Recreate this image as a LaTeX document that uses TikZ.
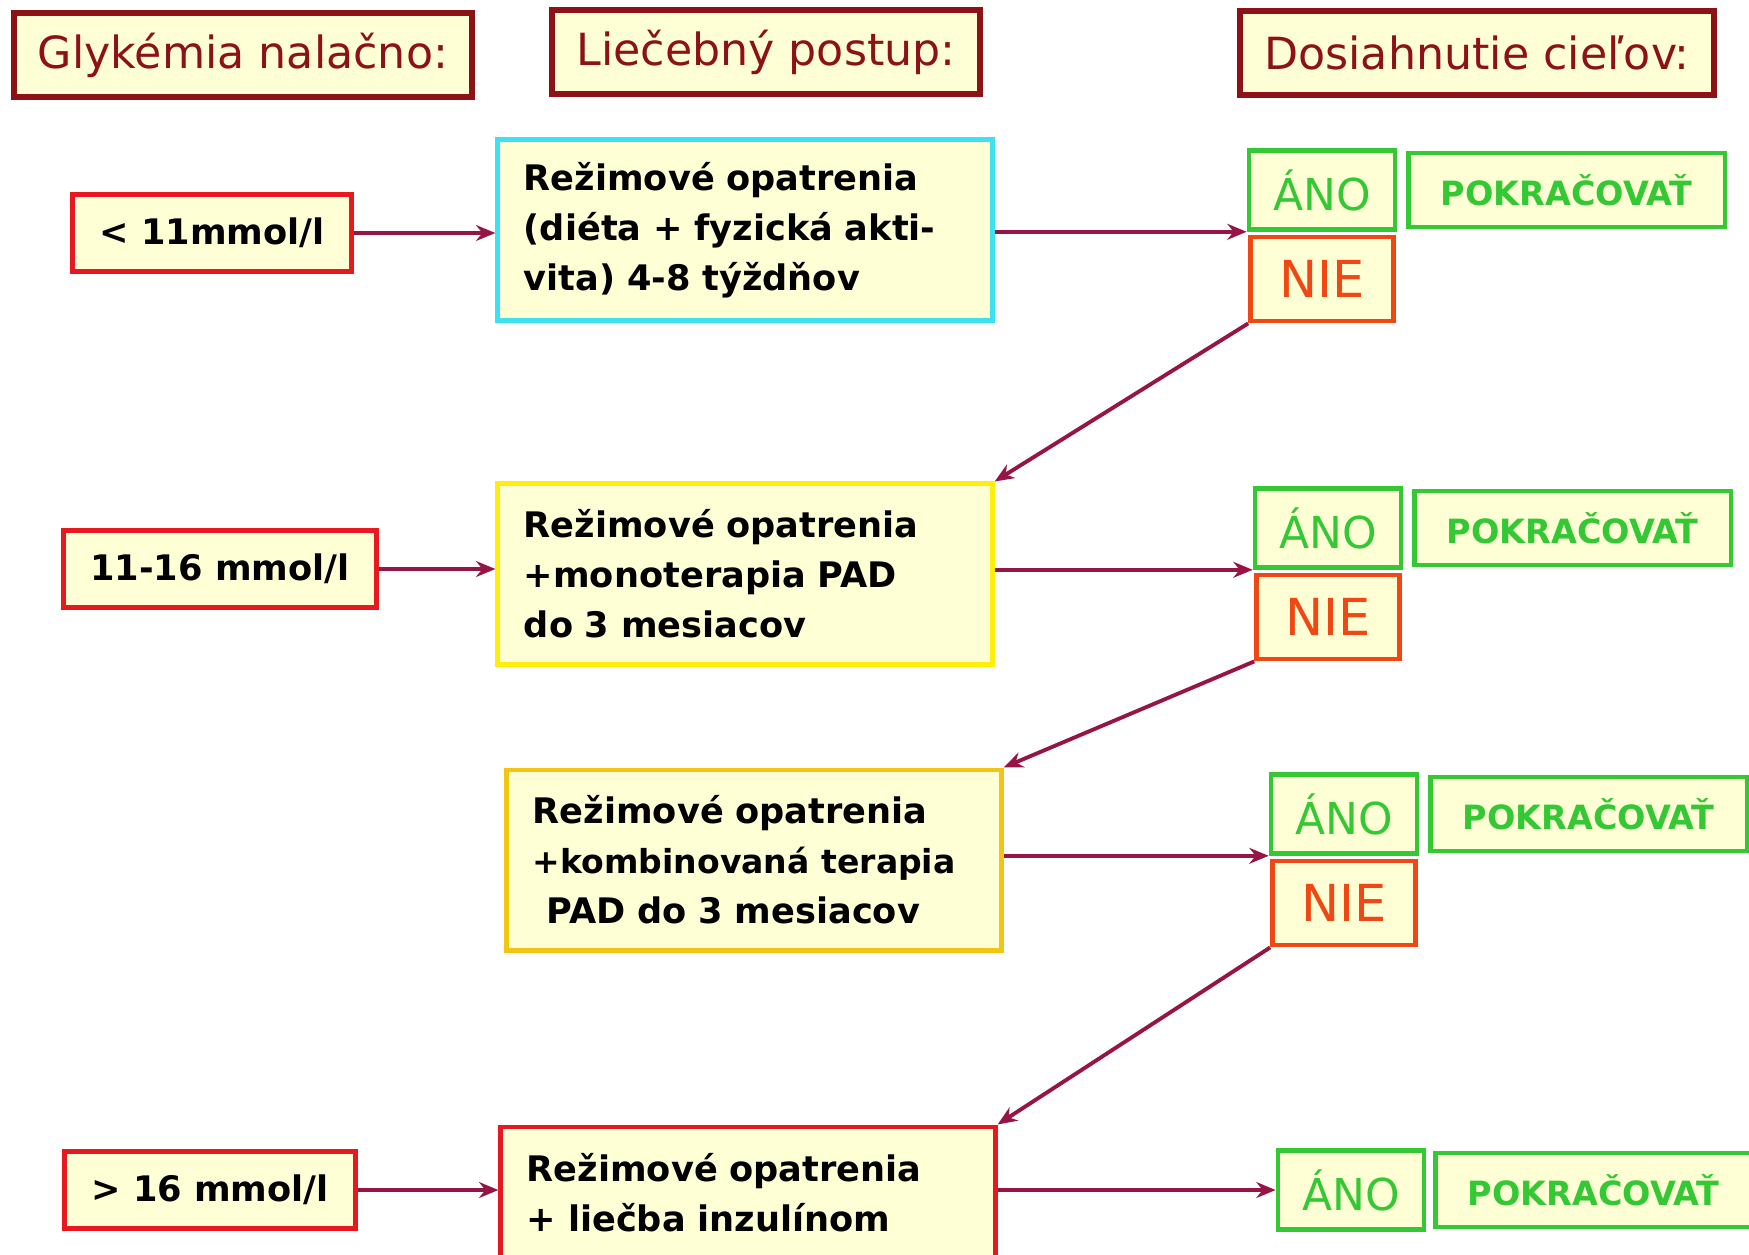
\documentclass[tikz,border=0pt]{standalone}
\usepackage{fontspec}
\setmainfont{DejaVu Sans}
\usetikzlibrary{positioning}
\usetikzlibrary{arrows.meta}
\definecolor{cream}{RGB}{255,255,214}
\definecolor{hdrred}{RGB}{140,18,24}
\definecolor{boxred}{RGB}{232,24,32}
\definecolor{boxcyan}{RGB}{60,226,240}
\definecolor{boxyellow}{RGB}{255,238,10}
\definecolor{boxgold}{RGB}{242,196,20}
\definecolor{yesgreen}{RGB}{52,200,52}
\definecolor{nored}{RGB}{240,72,20}
\definecolor{flowred}{RGB}{150,20,70}
\tikzset{
  heading/.style={rectangle,draw=hdrred,fill=cream,line width=1.7pt,
                  text=hdrred,inner xsep=0.24cm,minimum height=0.84cm,
                  font=\fontsize{12.6}{15}\selectfont},
  level/.style={rectangle,draw=boxred,fill=cream,line width=1.3pt,
                inner xsep=0.27cm,minimum height=0.77cm,
                font=\fontsize{10}{12}\selectfont\bfseries},
  therapy/.style={rectangle,fill=cream,line width=1.4pt,align=left,
                  text width=4.42cm,inner xsep=0.26cm,minimum height=1.8cm,
                  font=\fontsize{10}{14.2}\selectfont\bfseries},
  anobox/.style={rectangle,draw=yesgreen,fill=cream,line width=1.3pt,
                 text=yesgreen,minimum width=1.46cm,minimum height=0.79cm,
                 font=\fontsize{12.5}{15}\selectfont},
  pokrbox/.style={rectangle,draw=yesgreen,fill=cream,line width=1.3pt,
                  text=yesgreen,minimum width=3.16cm,minimum height=0.74cm,
                  font=\fontsize{9.5}{12}\selectfont\bfseries},
  niebox/.style={rectangle,draw=nored,fill=cream,line width=1.3pt,
                 text=nored,minimum width=1.43cm,minimum height=0.84cm,
                 font=\fontsize{14.5}{17}\selectfont},
  flow/.style={>={Stealth[length=5.5pt,width=4.5pt]},line width=1.1pt,
               ->,draw=flowred},
}
\begin{document}
\begin{tikzpicture}[x=0.01cm,y=-0.01cm]
    \useasboundingbox (0,0) rectangle (1749,1254);

    % Headings
    \node[heading] (hglyk) at (243,55)  {Glykémia nalačno:};
    \node[heading] (hpost) at (766,52)  {Liečebný postup:};
    \node[heading] (hciel) at (1477,53) {Dosiahnutie cieľov:};

    % Glycaemia levels
    \node[level] (low)  at (212,233)  {< 11mmol/l};
    \node[level] (mid)  at (220,569)  {11-16 mmol/l};
    \node[level] (high) at (210,1190) {> 16 mmol/l};

    % Treatment steps
    \node[therapy,draw=boxcyan]   (rezim) at (745,230)
        {Režimové opatrenia\\(diéta + fyzická akti-\\vita) 4-8 týždňov};
    \node[therapy,draw=boxyellow] (mono)  at (745,574)
        {Režimové opatrenia\\+monoterapia PAD\\do 3 mesiacov};
    \node[therapy,draw=boxgold]   (komb)  at (754,860)
        {Režimové opatrenia\\\mbox{\fontsize{9.4}{14.2}\selectfont +kombinovaná terapia}\\\hspace{0.4em}PAD do 3 mesiacov};
    \node[therapy,draw=boxred]    (inzul) at (748,1217)
        {Režimové opatrenia\\+ liečba inzulínom\\\mbox{}};

    % Goals
    \node[anobox]  (ano1) at (1322,190) {ÁNO};
    \node[pokrbox] (pok1) [right=0.09cm of ano1] {POKRAČOVAŤ};
    \node[niebox]  (nie1) [below=0.03cm of ano1] {NIE};

    \node[anobox]  (ano2) at (1328,528) {ÁNO};
    \node[pokrbox] (pok2) [right=0.09cm of ano2] {POKRAČOVAŤ};
    \node[niebox]  (nie2) [below=0.03cm of ano2] {NIE};

    \node[anobox]  (ano3) at (1344,814) {ÁNO};
    \node[pokrbox] (pok3) [right=0.09cm of ano3] {POKRAČOVAŤ};
    \node[niebox]  (nie3) [below=0.03cm of ano3] {NIE};

    \node[anobox]  (ano4) at (1351,1190) {ÁNO};
    \node[pokrbox] (pok4) [right=0.07cm of ano4] {POKRAČOVAŤ};

    % Flows
    \draw[flow] (low.east)  -- (low.east -| rezim.west);
    \draw[flow] (mid.east)  -- (mid.east -| mono.west);
    \draw[flow] (high.east) -- (high.east -| inzul.west);

    \draw[flow] (rezim.east |- ano1.south west) -- (ano1.south west);
    \draw[flow] (mono.east |- ano2.south west)  -- (ano2.south west);
    \draw[flow] (komb.east |- ano3.south west)  -- (ano3.south west);
    \draw[flow] (inzul.east |- ano4.west)       -- (ano4.west);

    \draw[flow] (nie1.south west) -- (mono.north east);
    \draw[flow] (nie2.south west) -- (komb.north east);
    \draw[flow] (nie3.south west) -- (inzul.north east);
\end{tikzpicture}
\end{document}
